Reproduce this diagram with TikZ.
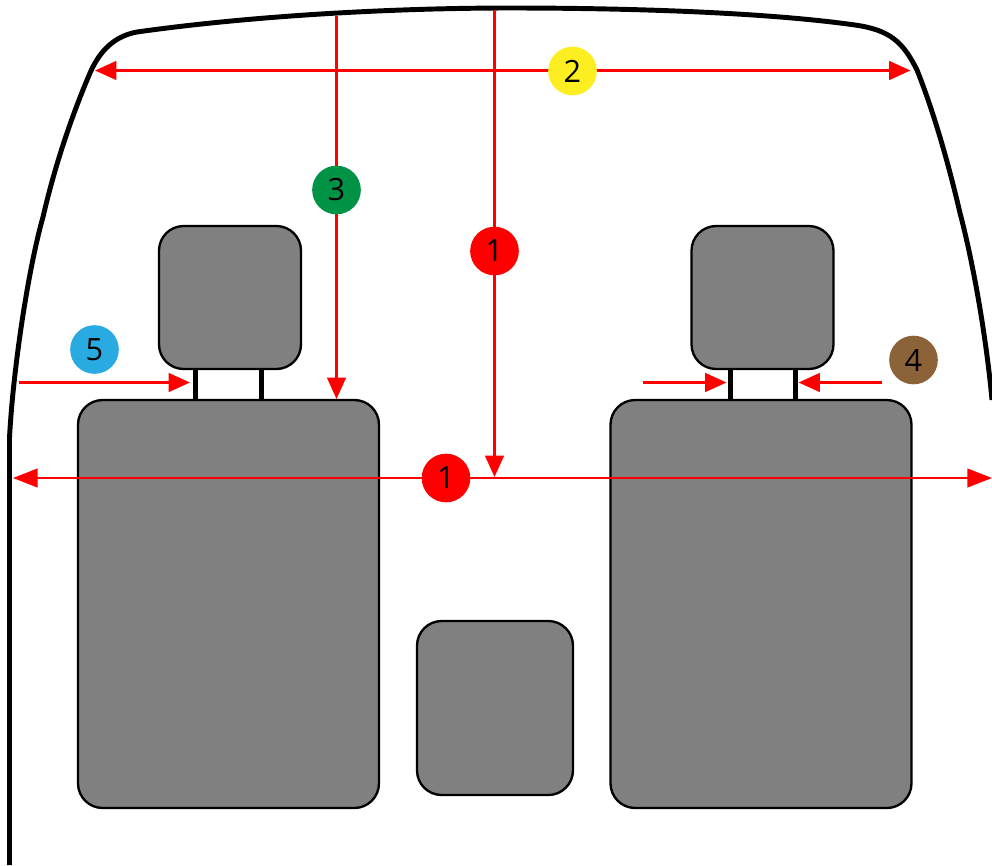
\documentclass[tikz,border=0pt]{standalone}
\usepackage{fontspec}
\setmainfont{Open Sans}
\usetikzlibrary{arrows.meta}
\definecolor{seatg}{HTML}{808080}
\definecolor{cyel}{HTML}{FCEE21}
\definecolor{cgrn}{HTML}{009245}
\definecolor{cblu}{HTML}{29ABE2}
\definecolor{cbrn}{HTML}{8C6239}
\tikzset{x=0.75pt,y=-0.75pt,
 seat/.style={draw=black,fill=seatg,line width=1.75pt,rounded corners=18.5pt},
 post/.style={draw=black,line width=3.75pt},
 body/.style={draw=black,line width=3.7pt},
 dim/.style={draw=red,line width=1.7pt},
 dimtip/.style={-{Triangle[length=16pt,width=14pt]}},
 dimboth/.style={{Triangle[length=16pt,width=14pt]}-{Triangle[length=16pt,width=14pt]}},
 dimlong/.style={{Triangle[length=18.5pt,width=14pt]}-{Triangle[length=18.5pt,width=14pt]}},
 badge/.style={circle,minimum size=36.5pt,inner sep=0pt,font=\fontsize{23}{23}\selectfont,text=black}}
\begin{document}
\begin{tikzpicture}
\useasboundingbox (0,0) rectangle (992,865);
\fill[white] (0,0) rectangle (992,865);
\draw[body] (9.5,865) -- (9.5,438)
  .. controls (13,370) and (28,270) .. (43,217)
  .. controls (55,165) and (72,115) .. (90,73)
  .. controls (100,50) and (115,36) .. (137,32)
  .. controls (250,16) and (390,8) .. (510,8)
  .. controls (640,8) and (770,13) .. (855,25)
  .. controls (890,30) and (903,42) .. (917,70)
  .. controls (935,115) and (950,170) .. (960,213)
  .. controls (975,270) and (987,345) .. (992,400);
\draw[post] (195.7,365) -- (195.7,402);
\draw[post] (261,365) -- (261,402);
\draw[post] (730,365) -- (730,402);
\draw[post] (795,365) -- (795,402);
\path[seat] (159,226) rectangle (301,369);
\path[seat] (691.5,226) rectangle (833.5,369);
\path[seat] (78,400) rectangle (379,808);
\path[seat] (610.5,400) rectangle (911.5,808);
\path[seat] (417,621) rectangle (573,795);
\coordinate (a1s) at (494.5,10);
\coordinate (a1e) at (494.5,477);
\coordinate (a3s) at (336.5,16);
\coordinate (a3e) at (336.5,399);
\coordinate (w1l) at (13,478);
\coordinate (w1r) at (992,478);
\coordinate (w2l) at (95,70.5);
\coordinate (w2r) at (910.5,70.5);
\coordinate (a5s) at (19,382.5);
\coordinate (a5e) at (190,382.5);
\coordinate (a4ls) at (643,382.5);
\coordinate (a4le) at (726.5,382.5);
\coordinate (a4rs) at (882,382.5);
\coordinate (a4re) at (798.5,382.5);
\draw[dim,dimtip] (a1s) -- (a1e);
\draw[dim,dimtip] (a3s) -- (a3e);
\draw[dim,dimlong] (w1l) -- (w1r);
\draw[dim,dimboth] (w2l) -- (w2r);
\draw[dim,dimtip] (a5s) -- (a5e);
\draw[dim,dimtip] (a4ls) -- (a4le);
\draw[dim,dimtip] (a4rs) -- (a4re);
\node[badge,fill=red] (b1a) at (494.5,251) {1};
\node[badge,fill=red] (b1b) at (446,478) {1};
\node[badge,fill=cyel] (b2) at (572.5,71) {2};
\node[badge,fill=cgrn] (b3) at (336.5,190) {3};
\node[badge,fill=cbrn] (b4) at (913.5,360) {4};
\node[badge,fill=cblu] (b5) at (94.5,349.5) {5};
\end{tikzpicture}
\end{document}
